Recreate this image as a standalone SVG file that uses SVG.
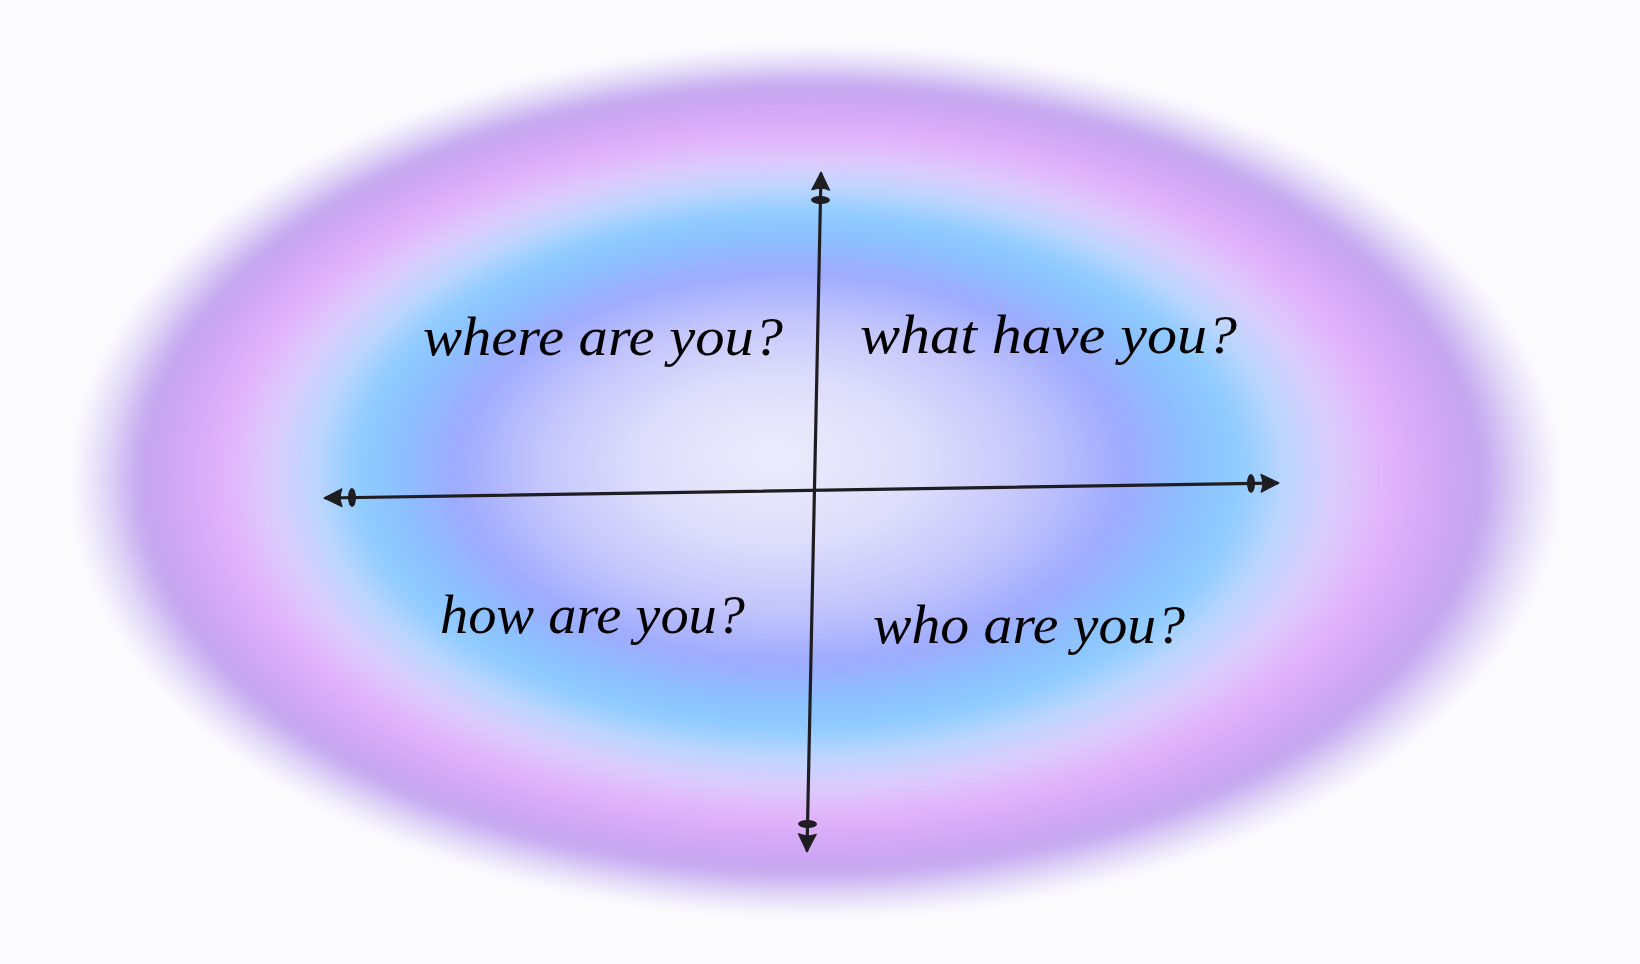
<svg xmlns="http://www.w3.org/2000/svg" width="1640" height="964" viewBox="0 0 1640 964">
  <style>
    .lbl { font-family: "Liberation Serif", "DejaVu Serif", serif; font-style: italic; font-size: 54px; fill: #000000; }
    .axis { stroke: #1e1e22; stroke-width: 3.2; fill: none; stroke-linecap: round; }
  </style>
  <defs>
    <radialGradient id="halo" cx="0.5" cy="0.5" r="0.5" fx="0.47" fy="0.47">
      <stop offset="0" stop-color="#ececfd"/>
      <stop offset="0.18" stop-color="#dedefc"/>
      <stop offset="0.32" stop-color="#c4c6fc"/>
      <stop offset="0.44" stop-color="#9eaaff"/>
      <stop offset="0.52" stop-color="#8cc0ff"/>
      <stop offset="0.58" stop-color="#90ccff"/>
      <stop offset="0.64" stop-color="#bed6fe"/>
      <stop offset="0.70" stop-color="#dcccfc"/>
      <stop offset="0.76" stop-color="#e2b4fc"/>
      <stop offset="0.82" stop-color="#d4a8f6"/>
      <stop offset="0.88" stop-color="#c4a6f0"/>
      <stop offset="0.935" stop-color="#e4dcf8"/>
      <stop offset="0.98" stop-color="#fcfcff"/>
      <stop offset="1" stop-color="#fcfcff" stop-opacity="0"/>
    </radialGradient>
    <filter id="soft" x="-10%" y="-10%" width="120%" height="120%">
      <feGaussianBlur stdDeviation="6"/>
    </filter>
    <marker id="arr" markerUnits="userSpaceOnUse" orient="auto-start-reverse" refX="0" refY="0" markerWidth="44" markerHeight="26" viewBox="-38 -13 44 26" overflow="visible">
      <path d="M2,0 L-16,-9 Q-14.5,-4 -14,0 Q-14.5,4 -16,9 Z" fill="#1e1e22" stroke="#1e1e22" stroke-width="1" stroke-linejoin="round"/>
      <ellipse cx="-26" cy="0" rx="4" ry="9.5" fill="#1e1e22"/>
    </marker>
  </defs>

  <rect x="0" y="0" width="1640" height="964" fill="#fcfcff"/>
  <g id="background">
    <ellipse cx="817" cy="482" rx="762" ry="446" fill="url(#halo)" filter="url(#soft)"/>
  </g>

  <g id="connectors">
    <line class="axis" x1="821" y1="174" x2="807" y2="850" marker-start="url(#arr)" marker-end="url(#arr)"/>
    <line class="axis" x1="326" y1="498" x2="1277" y2="483" marker-start="url(#arr)" marker-end="url(#arr)"/>
  </g>

  <g id="q-where">
    <text class="lbl" x="423" y="355" textLength="360" lengthAdjust="spacingAndGlyphs">where are you?</text>
  </g>
  <g id="q-what">
    <text class="lbl" x="860" y="353" textLength="377" lengthAdjust="spacingAndGlyphs">what have you?</text>
  </g>
  <g id="q-how">
    <text class="lbl" x="440" y="633" textLength="305" lengthAdjust="spacingAndGlyphs">how are you?</text>
  </g>
  <g id="q-who">
    <text class="lbl" x="873" y="643" textLength="312" lengthAdjust="spacingAndGlyphs">who are you?</text>
  </g>
</svg>
